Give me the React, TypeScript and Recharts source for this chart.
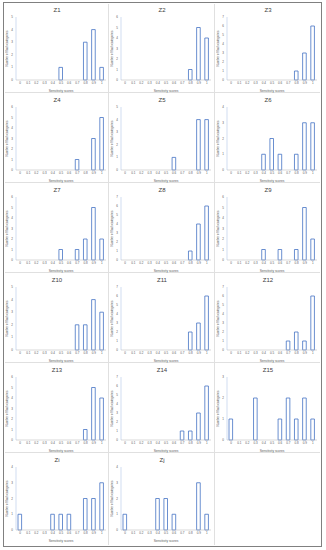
import React from 'react';
import { BarChart, Bar, XAxis, YAxis, Label } from 'recharts';

const categories = ['0', '0.1', '0.2', '0.3', '0.4', '0.5', '0.6', '0.7', '0.8', '0.9', '1'];
const panelNames = ['Z1', 'Z2', 'Z3', 'Z4', 'Z5', 'Z6', 'Z7', 'Z8', 'Z9', 'Z10', 'Z11', 'Z12', 'Z13', 'Z14', 'Z15', 'Zi', 'Zj'];
const z1 = [0, 0, 0, 0, 0, 1, 0, 0, 3, 4, 1];
const z2 = [0, 0, 0, 0, 0, 0, 0, 0, 1, 5, 4];
const z3 = [0, 0, 0, 0, 0, 0, 0, 0, 1, 3, 6];
const z4 = [0, 0, 0, 0, 0, 0, 0, 1, 0, 3, 5];
const z5 = [0, 0, 0, 0, 0, 0, 1, 0, 0, 4, 4];
const z6 = [0, 0, 0, 0, 1, 2, 1, 0, 1, 3, 3];
const z7 = [0, 0, 0, 0, 0, 1, 0, 1, 2, 5, 2];
const z8 = [0, 0, 0, 0, 0, 0, 0, 0, 1, 4, 6];
const z9 = [0, 0, 0, 0, 1, 0, 1, 0, 1, 5, 2];
const z10 = [0, 0, 0, 0, 0, 0, 0, 2, 2, 4, 3];
const z11 = [0, 0, 0, 0, 0, 0, 0, 0, 2, 3, 6];
const z12 = [0, 0, 0, 0, 0, 0, 0, 1, 2, 1, 6];
const z13 = [0, 0, 0, 0, 0, 0, 0, 0, 1, 5, 4];
const z14 = [0, 0, 0, 0, 0, 0, 0, 1, 1, 3, 6];
const z15 = [1, 0, 0, 2, 0, 0, 1, 2, 1, 2, 1];
const zi = [1, 0, 0, 0, 1, 1, 1, 0, 2, 2, 3];
const zj = [1, 0, 0, 0, 2, 2, 1, 0, 0, 3, 1];
const panelValues = [z1, z2, z3, z4, z5, z6, z7, z8, z9, z10, z11, z12, z13, z14, z15, zi, zj];
const yMax = [5, 6, 7, 6, 5, 4, 6, 7, 6, 5, 7, 7, 6, 7, 3, 4, 4];
const xTitle = 'Sensitivity scores';
const yTitle = 'Number of flash categories';

const FONT = '"Liberation Sans", Arial, sans-serif';
const colLeft = [5, 110, 216];
const rowTop = [4, 94, 184, 274, 364, 454];

function Panel({ idx }: { idx: number }) {
  const vals = panelValues[idx];
  const data = categories.map((c, i) => ({ cat: c, v: vals[i] }));
  const max = yMax[idx];
  const ticks = Array.from({ length: max + 1 }, (_, i) => i);
  const col = idx % 3;
  const row = Math.floor(idx / 3);
  return (
    <div style={{ position: 'absolute', left: colLeft[col], top: rowTop[row], width: 104, height: 90 }}>
      <div style={{ position: 'absolute', left: 0, top: 3, width: 104, textAlign: 'center', fontFamily: FONT, fontSize: 6, color: '#404040', lineHeight: '7px' }}>
        {panelNames[idx]}
      </div>
      <BarChart width={104} height={89} data={data} margin={{ top: 13, right: 3, bottom: 0, left: 0 }} barCategoryGap={2}>
        <XAxis
          dataKey="cat"
          interval={0}
          tick={{ fontSize: 3, fill: '#595959', fontFamily: FONT }}
          tickLine={false}
          tickSize={1}
          axisLine={{ stroke: '#bfbfbf', strokeWidth: 0.6 }}
          height={13}
          tickMargin={1}
        >
          <Label value={xTitle} position="insideBottom" offset={1} style={{ fontSize: 3.2, fill: '#595959', fontFamily: FONT }} />
        </XAxis>
        <YAxis
          domain={[0, max]}
          ticks={ticks}
          interval={0}
          tick={{ fontSize: 3, fill: '#595959', fontFamily: FONT }}
          tickLine={false}
          tickSize={1}
          axisLine={{ stroke: '#b4c7e7', strokeWidth: 0.6 }}
          width={11}
          tickMargin={2}
        >
          <Label value={yTitle} angle={-90} position="insideLeft" offset={2} style={{ fontSize: 3, fill: '#595959', fontFamily: FONT, textAnchor: 'middle' }} />
        </YAxis>
        <Bar dataKey="v" fill="#ffffff" stroke="#4472c4" strokeWidth={0.8} barSize={3.6} isAnimationActive={false} />
      </BarChart>
    </div>
  );
}

export default function App() {
  return (
    <div style={{ position: 'absolute', left: 0, top: 0, width: 326, height: 550, background: '#ffffff' }}>
      <div style={{ position: 'absolute', left: 3, top: 2, width: 317, height: 543, border: '1.5px solid #808080' }} />
      {[1, 2, 3, 4, 5].map((r) => (
        <div key={'h' + r} style={{ position: 'absolute', left: 5, top: rowTop[r] - 2, width: 315, height: 0, borderTop: '1px solid #e0e0e0' }} />
      ))}
      {[1, 2].map((c) => (
        <div key={'v' + c} style={{ position: 'absolute', left: colLeft[c] - 2, top: 4, width: 0, height: 541, borderLeft: '1px solid #e0e0e0' }} />
      ))}
      {panelNames.map((_, i) => (
        <Panel key={i} idx={i} />
      ))}
    </div>
  );
}
